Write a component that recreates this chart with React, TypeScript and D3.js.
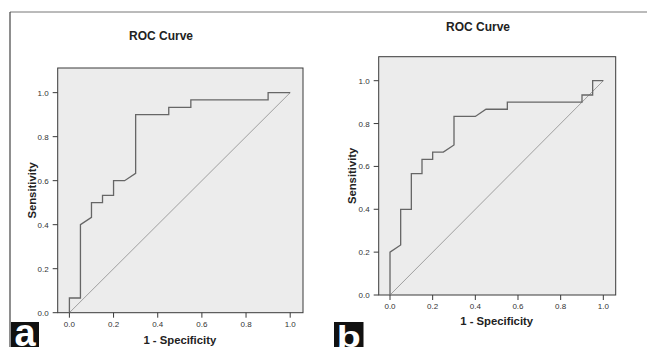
import * as d3 from 'd3'

const W = 647
const H = 347

// ROC points (1 - specificity, sensitivity)
const ROC_A_FPR = [0, 0, 0.05, 0.05, 0.1, 0.1, 0.15, 0.15, 0.2, 0.2, 0.25, 0.3, 0.3, 0.45, 0.45, 0.55, 0.55, 0.9, 0.9, 1]
const ROC_A_TPR = [0, 0.0667, 0.0667, 0.4, 0.4333, 0.5, 0.5, 0.5333, 0.5333, 0.6, 0.6, 0.6333, 0.9, 0.9, 0.9333, 0.9333, 0.9667, 0.9667, 1, 1]

const ROC_B_FPR = [0, 0, 0.05, 0.05, 0.1, 0.1, 0.15, 0.15, 0.2, 0.2, 0.25, 0.3, 0.3, 0.4, 0.45, 0.55, 0.55, 0.9, 0.9, 0.95, 0.95, 1]
const ROC_B_TPR = [0, 0.2, 0.2333, 0.4, 0.4, 0.5667, 0.5667, 0.6333, 0.6333, 0.6667, 0.6667, 0.7, 0.8333, 0.8333, 0.8667, 0.8667, 0.9, 0.9, 0.9333, 0.9333, 1, 1]

const X_TICKS = [0, 0.2, 0.4, 0.6, 0.8, 1.0]
const Y_TICKS = [0, 0.2, 0.4, 0.6, 0.8, 1.0]
const REF_LINE = [0, 1]

const FONT = "Arial, 'Liberation Sans', Helvetica, sans-serif"

type Box = { left: number; right: number; top: number; bottom: number }

function RocPanel({ box, fpr, tpr, titleX, titleY, yLabelX, xLabelY }: {
  box: Box; fpr: number[]; tpr: number[]; titleX: number; titleY: number; yLabelX: number; xLabelY: number
}) {
  const x = d3.scaleLinear().domain([-0.053, 1.058]).range([box.left, box.right])
  const y = d3.scaleLinear().domain([0, 1.112]).range([box.bottom, box.top])
  const pts: [number, number][] = fpr.map((f, i) => [f, tpr[i]])
  const line = d3.line<[number, number]>().x(d => x(d[0])).y(d => y(d[1]))
  const ref: [number, number][] = REF_LINE.map(v => [v, v])
  const midY = (box.top + box.bottom) / 2

  return (
    <g>
      <text x={titleX} y={titleY} textAnchor="middle" fontFamily={FONT} fontWeight="bold" fontSize={12} fill="#222">ROC Curve</text>
      <rect x={box.left} y={box.top} width={box.right - box.left} height={box.bottom - box.top}
        fill="#ececec" stroke="#3a3a3a" strokeWidth={1} />
      <path d={line(ref) ?? ''} fill="none" stroke="#8c8c8c" strokeWidth={0.8} />
      <path d={line(pts) ?? ''} fill="none" stroke="#666" strokeWidth={1.3} />
      {X_TICKS.map(t => (
        <g key={'x' + t}>
          <line x1={x(t)} x2={x(t)} y1={box.bottom} y2={box.bottom + 5} stroke="#3a3a3a" />
          <text x={x(t)} y={box.bottom + 14} textAnchor="middle" fontFamily={FONT} fontSize={8} fill="#333">{t.toFixed(1)}</text>
        </g>
      ))}
      {Y_TICKS.map(t => (
        <g key={'y' + t}>
          <line x1={box.left - 5} x2={box.left} y1={y(t)} y2={y(t)} stroke="#3a3a3a" />
          <text x={box.left - 9} y={y(t) + 3} textAnchor="end" fontFamily={FONT} fontSize={8} fill="#333">{t.toFixed(1)}</text>
        </g>
      ))}
      <text transform={`translate(${yLabelX},${midY}) rotate(-90)`} textAnchor="middle" fontFamily={FONT}
        fontWeight="bold" fontSize={11.3} fill="#222">Sensitivity</text>
      <text x={(x(0) + x(1)) / 2} y={xLabelY} textAnchor="middle" fontFamily={FONT} fontWeight="bold" fontSize={11.3} fill="#222">1 - Specificity</text>
    </g>
  )
}

export default function App() {
  return (
    <div style={{ position: 'fixed', left: 0, top: 0 }}>
      <svg width={W} height={H} style={{ display: 'block', background: '#fff' }}>
        <line x1={10} x2={W} y1={12} y2={12} stroke="#777" strokeWidth={1} />
        <line x1={10} x2={10} y1={12} y2={H} stroke="#444" strokeWidth={1.2} />

        <RocPanel box={{ left: 57.7, right: 303, top: 68, bottom: 312.7 }} fpr={ROC_A_FPR} tpr={ROC_A_TPR}
          titleX={161} titleY={40} yLabelX={35.5} xLabelY={344} />
        <RocPanel box={{ left: 378.7, right: 615.7, top: 56.7, bottom: 295 }} fpr={ROC_B_FPR} tpr={ROC_B_TPR}
          titleX={478} titleY={31} yLabelX={355.5} xLabelY={325} />

        <rect x={11} y={322} width={28} height={25} fill="#111" />
        <text x={25} y={346} textAnchor="middle" fontFamily={FONT} fontWeight="bold" fontSize={38} fill="#fff">a</text>
        <rect x={334} y={322} width={29.5} height={25} fill="#111" />
        <text x={348.7} y={346.5} textAnchor="middle" fontFamily={FONT} fontWeight="bold" fontSize={29}
          textLength={24} lengthAdjust="spacingAndGlyphs" fill="#fff">b</text>
      </svg>
    </div>
  )
}
